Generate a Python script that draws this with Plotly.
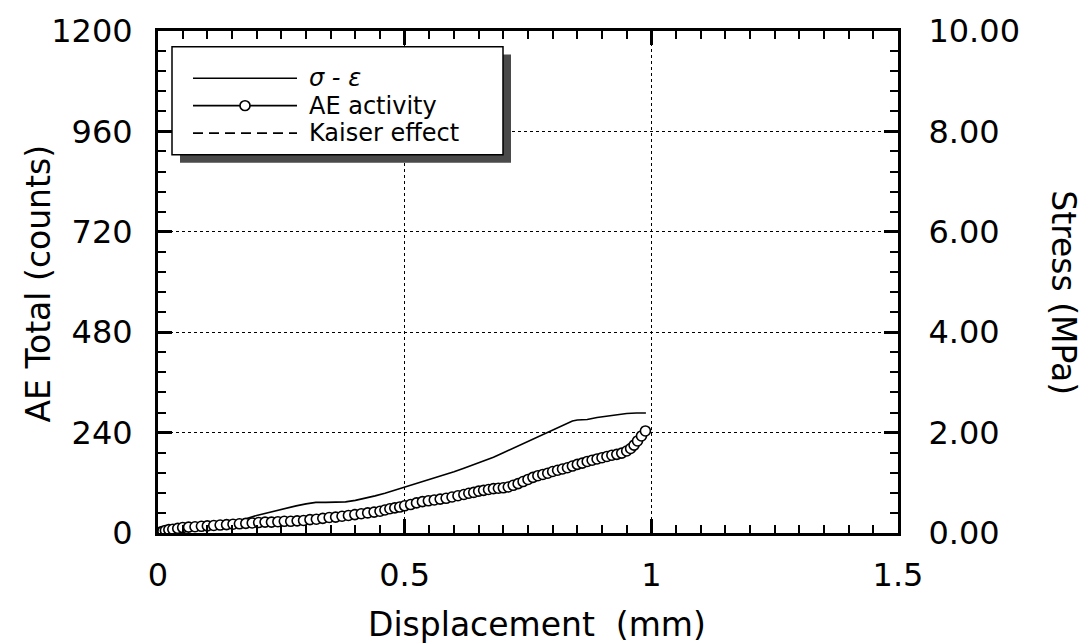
import plotly.graph_objects as go

# ---- data ----
disp_stress = [0.000, 0.020, 0.040, 0.060, 0.080, 0.100, 0.120, 0.140, 0.160, 0.180,
               0.200, 0.220, 0.240, 0.260, 0.280, 0.300, 0.320, 0.340, 0.360, 0.380,
               0.400, 0.420, 0.440, 0.460, 0.480, 0.500, 0.520, 0.540, 0.560, 0.580,
               0.600, 0.620, 0.640, 0.660, 0.680, 0.700, 0.720, 0.740, 0.760, 0.780,
               0.800, 0.820, 0.840, 0.850, 0.870, 0.890, 0.910, 0.930, 0.950, 0.970, 0.989]
stress_mpa = [0.00, 0.01, 0.03, 0.05, 0.07, 0.10, 0.13, 0.18, 0.23, 0.29,
              0.35, 0.40, 0.45, 0.50, 0.54, 0.58, 0.61, 0.61, 0.61, 0.62,
              0.65, 0.69, 0.74, 0.79, 0.85, 0.92, 0.98, 1.04, 1.10, 1.16,
              1.22, 1.29, 1.36, 1.43, 1.51, 1.60, 1.69, 1.78, 1.87, 1.96,
              2.05, 2.14, 2.23, 2.25, 2.26, 2.30, 2.33, 2.36, 2.38, 2.39, 2.39]

disp_ae = [0.000, 0.005, 0.010, 0.015, 0.022, 0.030, 0.040, 0.050, 0.062, 0.075,
           0.088, 0.100, 0.113, 0.126, 0.139, 0.152, 0.165, 0.178, 0.191, 0.204,
           0.217, 0.230, 0.243, 0.256, 0.269, 0.282, 0.295, 0.308, 0.321, 0.334,
           0.347, 0.360, 0.373, 0.386, 0.399, 0.412, 0.425, 0.438, 0.450, 0.460,
           0.470, 0.480, 0.490, 0.500, 0.512, 0.524, 0.536, 0.548, 0.560, 0.572,
           0.584, 0.596, 0.608, 0.620, 0.630, 0.640, 0.650, 0.660, 0.670, 0.680,
           0.690, 0.700, 0.710, 0.720, 0.730, 0.740, 0.750, 0.760, 0.770, 0.780,
           0.790, 0.800, 0.810, 0.820, 0.830, 0.840, 0.850, 0.860, 0.870, 0.880,
           0.890, 0.900, 0.910, 0.920, 0.930, 0.940, 0.950, 0.958, 0.965, 0.972,
           0.980, 0.988]
ae_counts = [0, 2, 4, 6, 8, 9, 11, 13, 14, 15,
             16, 17, 18, 19, 20, 21, 22, 23, 24, 25,
             26, 26, 27, 28, 28, 29, 30, 32, 33, 35,
             37, 38, 40, 42, 44, 46, 48, 50, 52, 55,
             58, 60, 62, 65, 68, 72, 75, 77, 79, 81,
             83, 86, 89, 92, 95, 97, 100, 102, 104, 106,
             107, 108, 110, 114, 118, 123, 128, 133, 137, 140,
             143, 147, 150, 153, 156, 160, 164, 167, 171, 174,
             177, 180, 183, 186, 188, 191, 196, 202, 210, 220,
             232, 244]

x_ticks = [0, 0.5, 1, 1.5]
x_tick_text = ["0", "0.5", "1", "1.5"]
ae_ticks = [0, 240, 480, 720, 960, 1200]
stress_ticks = [0, 2, 4, 6, 8, 10]
legend_labels = ["<i>σ - ε</i>", "AE activity", "Kaiser effect"]

# ---- layout geometry ----
W, H = 1082, 644
L, R, T, B = 158, 898, 22, 533
FONT = "DejaVu Sans"


def px(x):
    return (x - L) / (R - L)


def py(y):
    return (B - y) / (B - T)


fig = go.Figure()

fig.add_trace(go.Scatter(
    x=disp_stress, y=stress_mpa, mode="lines", yaxis="y",
    line=dict(color="black", width=1.6), showlegend=False, name="σ - ε"))

fig.add_trace(go.Scatter(
    x=disp_ae, y=ae_counts, mode="lines+markers", yaxis="y2",
    line=dict(color="black", width=1.5),
    marker=dict(symbol="circle", size=10, color="white",
                line=dict(color="black", width=1.6)),
    showlegend=False, name="AE activity"))

tickfont = dict(family=FONT, size=32, color="black")

fig.update_layout(
    width=W, height=H,
    margin=dict(l=L, r=W - R, t=T, b=H - B, pad=0),
    paper_bgcolor="white", plot_bgcolor="white",
    showlegend=False,
    xaxis=dict(
        range=[0, 1.5], tickvals=x_ticks, ticktext=x_tick_text,
        ticks="inside", ticklen=14, tickwidth=3, tickcolor="black",
        showline=True, linewidth=3, linecolor="black", mirror="ticks",
        showgrid=True, gridcolor="black", gridwidth=1, griddash="dot",
        zeroline=False, tickfont=tickfont, ticklabelstandoff=12,
        minor=dict(dtick=0.05, ticks="inside", ticklen=8, tickwidth=2,
                   tickcolor="black", showgrid=False),
    ),
    yaxis=dict(
        range=[0, 10], tickvals=stress_ticks, tickformat=".2f", side="right",
        ticks="inside", ticklen=14, tickwidth=3, tickcolor="black",
        showline=True, linewidth=3, linecolor="black",
        showgrid=True, gridcolor="black", gridwidth=1, griddash="dot",
        zeroline=False, tickfont=tickfont, ticklabelstandoff=21,
        minor=dict(dtick=0.4, ticks="inside", ticklen=8, tickwidth=2,
                   tickcolor="black", showgrid=False),
    ),
    yaxis2=dict(
        range=[0, 1200], tickvals=ae_ticks, side="left", overlaying="y",
        ticks="inside", ticklen=14, tickwidth=3, tickcolor="black",
        showline=True, linewidth=3, linecolor="black",
        showgrid=False, zeroline=False, tickfont=tickfont, ticklabelstandoff=16,
        minor=dict(dtick=48, ticks="inside", ticklen=8, tickwidth=2,
                   tickcolor="black", showgrid=False),
    ),
)

# axis titles
titlefont = dict(family=FONT, size=33, color="black")
fig.add_annotation(text="Displacement\u00a0\u00a0(mm)", xref="paper", yref="paper",
                   x=px(537), y=py(626), xanchor="center", yanchor="middle",
                   showarrow=False, font=titlefont)
fig.add_annotation(text="AE Total (counts)", xref="paper", yref="paper",
                   x=px(38), y=py(279), xanchor="center", yanchor="middle",
                   textangle=-90, showarrow=False, font=titlefont)
fig.add_annotation(text="Stress (MPa)", xref="paper", yref="paper",
                   x=px(1064), y=py(288), xanchor="center", yanchor="middle",
                   textangle=90, showarrow=False, font=titlefont)

# ---- hand-drawn legend box with shadow ----
bx0, by0, bx1, by1 = 172, 38, 503, 148
sh = 8
fig.add_shape(type="rect", xref="paper", yref="paper",
              x0=px(bx0 + sh), x1=px(bx1 + sh), y0=py(by1 + sh), y1=py(by0 + sh),
              fillcolor="#4a4a4a", line=dict(width=0))
fig.add_shape(type="rect", xref="paper", yref="paper",
              x0=px(bx0), x1=px(bx1), y0=py(by1), y1=py(by0),
              fillcolor="white", line=dict(color="black", width=1.5))

rows = [70, 98, 126]
lx0, lx1, tx = 193, 297, 307
fig.add_shape(type="line", xref="paper", yref="paper",
              x0=px(lx0), x1=px(lx1), y0=py(rows[0]), y1=py(rows[0]),
              line=dict(color="black", width=1.5))
fig.add_shape(type="line", xref="paper", yref="paper",
              x0=px(lx0), x1=px(lx1), y0=py(rows[1]), y1=py(rows[1]),
              line=dict(color="black", width=1.8))
fig.add_shape(type="circle", xref="paper", yref="paper",
              x0=px(240), x1=px(250), y0=py(rows[1] + 5), y1=py(rows[1] - 5),
              fillcolor="white", line=dict(color="black", width=1.6))
fig.add_shape(type="line", xref="paper", yref="paper",
              x0=px(lx0), x1=px(lx1), y0=py(rows[2]), y1=py(rows[2]),
              line=dict(color="black", width=1.8, dash="10px,6px"))

for lab, ry in zip(legend_labels, rows):
    fig.add_annotation(text=lab, xref="paper", yref="paper",
                       x=px(tx), y=py(ry), xanchor="left", yanchor="middle",
                       showarrow=False,
                       font=dict(family=FONT, size=24, color="black"))

fig.write_html("out.html")
